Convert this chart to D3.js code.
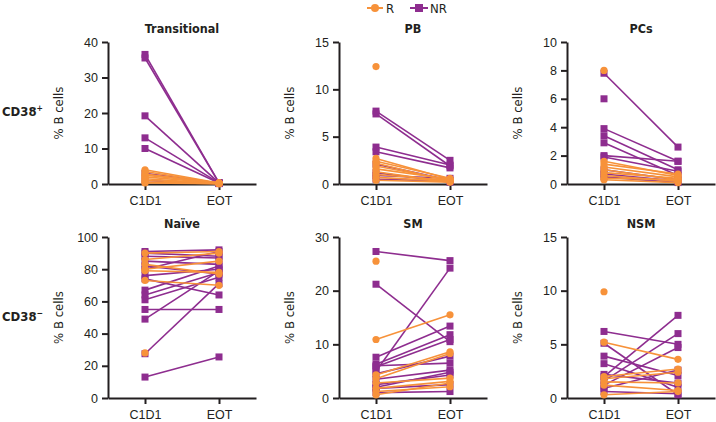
<!DOCTYPE html>
<html>
<head>
<meta charset="utf-8">
<script src="https://cdn.jsdelivr.net/npm/d3@7"></script>
<style>
  body { margin: 0; background: #fff; }
  svg { font-family: "Liberation Sans Narrow", "DejaVu Sans Condensed", sans-serif; }
  .tick text { font-size: 12.5px; fill: #231f20; }
  .domain, .tick line { stroke: #231f20; stroke-width: 2; }
</style>
</head>
<body>
<div id="chart"></div>
<script>
const width = 716;
const height = 422;

const timepoints = ["C1D1", "EOT"];
const titles = ["Transitional", "PB", "PCs", "Naïve", "SM", "NSM"];
const yMax = [40, 15, 10, 100, 30, 15];
const yTicks = [
    [0, 10, 20, 30, 40],
    [0, 5, 10, 15],
    [0, 2, 4, 6, 8, 10],
    [0, 20, 40, 60, 80, 100],
    [0, 10, 20, 30],
    [0, 5, 10, 15]
];
const rowLabels = ["CD38", "CD38"];
const rowSigns = ["+", "−"];

// [C1D1, EOT] pairs, null = no EOT sample
const transitionalNR = [[36.5, 0.3], [35.5, 0.3], [19.2, 0.3], [13, 0.3], [10, 0.3], [3, 0.2], [1, 0.1]];
const transitionalR = [[4, 0.3], [3.5, 0.2], [2.8, 0.3], [2.5, 0.3], [2, 0.2], [1.5, 0.1], [1, 0.2], [0.5, 0.1], [0.3, 0.1]];

const pbNR = [[7.7, 2.5], [7.4, 1.9], [3.9, 2.0], [3.4, 1.7], [2.1, 0.4], [1.2, 0.2], [0.9, 0.6], [0.5, 0.3]];
const pbR = [[12.4, null], [2.7, 0.5], [2.4, 0.6], [2.2, 0.3], [1.9, 0.4], [1.6, 0.5], [1.3, 0.2], [1.0, 0.4], [0.7, 0.3], [0.4, 0.2]];

const pcsNR = [[7.8, 2.6], [6.0, null], [3.9, 1.6], [3.4, 1.0], [2.9, 0.6], [2.0, 1.6], [1.9, 0.9], [1.0, 0.3], [0.7, 0.2], [0.5, 0.1]];
const pcsR = [[8.0, null], [1.6, 0.6], [1.4, 0.7], [1.2, 0.5], [1.0, 0.3], [0.8, 0.4], [0.6, 0.2], [0.4, 0.3], [0.3, 0.1]];

const naiveNR = [[91, 92], [90, 88], [88, 87], [85, 83], [82, 77], [80, 91], [76, 80], [74, 64], [67, 82], [64, 78], [61, 75], [55, 55], [49, 79], [27.5, 71], [13, 25.5]];
const naiveR = [[90, 91], [86, 90], [83, 77], [80, 85], [79, 78], [73, 70], [28, null]];

const smNR = [[27.3, 25.6], [21.2, 10.5], [5.0, 24.2], [7.6, 13.4], [6.3, 11.8], [5.8, 10.9], [4.5, 7.8], [6.0, 6.5], [3.5, 5.2], [2.0, 4.8], [2.5, 4.3], [1.8, 2.5], [1.0, 1.2]];
const smR = [[25.5, null], [10.9, 15.5], [4.3, 8.6], [3.6, 8.3], [2.8, 3.7], [1.8, 3.1], [1.2, 2.1], [0.6, 2.8]];

const nsmNR = [[6.2, 5.0], [5.1, 0.3], [3.9, 2.1], [3.2, 1.0], [2.2, 1.4], [2.0, 7.7], [1.6, 6.0], [1.2, 4.7], [0.9, 2.6], [0.6, 0.4]];
const nsmR = [[9.9, null], [5.2, 3.6], [2.0, 2.7], [1.8, 2.4], [1.5, 1.4], [1.2, 0.7], [0.3, 0.6]];

const seriesNR = [transitionalNR, pbNR, pcsNR, naiveNR, smNR, nsmNR];
const seriesR = [transitionalR, pbR, pcsR, naiveR, smR, nsmR];

const colorR = "#f7923a";
const colorNR = "#8e2d8f";
const ink = "#231f20";

// layout
const colX = [108, 339, 567];
const rowY = [[42, 184], [237, 398]];
const plotW = 148;

let svg = d3.select("#chart")
    .append("svg")
    .attr("width", width)
    .attr("height", height);

titles.forEach((title, i) => {
    let col = i % 3;
    let row = Math.floor(i / 3);
    let [top, bottom] = rowY[row];

    let g = svg.append("g")
        .attr("transform", "translate(" + colX[col] + ",0)");

    let x = d3.scalePoint()
        .domain(timepoints)
        .range([0, plotW])
        .padding(0.5);

    let y = d3.scaleLinear()
        .domain([0, yMax[i]])
        .range([bottom, top]);

    g.append("g")
        .call(d3.axisLeft(y).tickValues(yTicks[i]).tickSize(6).tickPadding(4).tickSizeOuter(0));

    g.append("g")
        .attr("transform", "translate(0," + bottom + ")")
        .call(d3.axisBottom(x).tickSize(6).tickPadding(4).tickSizeOuter(0))
        .selectAll(".tick text").attr("dy", "0.85em");

    g.append("text")
        .attr("x", (x("C1D1") + x("EOT")) / 2)
        .attr("y", top - 9)
        .attr("text-anchor", "middle")
        .attr("font-size", 12.5)
        .attr("font-weight", "bold")
        .attr("fill", ink)
        .text(title);

    g.append("text")
        .attr("transform", "translate(-45," + (top + bottom) / 2 + ") rotate(-90)")
        .attr("text-anchor", "middle")
        .attr("font-size", 13)
        .attr("fill", ink)
        .text("% B cells");

    const drawGroup = function(pairs, color, shape) {
        let withBoth = pairs.filter(d => d[1] !== null);
        g.append("g")
            .selectAll("line")
            .data(withBoth)
            .join("line")
            .attr("x1", x("C1D1"))
            .attr("x2", x("EOT"))
            .attr("y1", d => y(d[0]))
            .attr("y2", d => y(d[1]))
            .attr("stroke", color)
            .attr("stroke-width", 1.6);

        let pts = [];
        pairs.forEach(d => {
            pts.push({ t: "C1D1", v: d[0] });
            if (d[1] !== null) pts.push({ t: "EOT", v: d[1] });
        });

        if (shape === "square") {
            g.append("g")
                .selectAll("rect")
                .data(pts)
                .join("rect")
                .attr("x", d => x(d.t) - 3.5)
                .attr("y", d => y(d.v) - 3.5)
                .attr("width", 7)
                .attr("height", 7)
                .attr("fill", color);
        } else {
            g.append("g")
                .selectAll("circle")
                .data(pts)
                .join("circle")
                .attr("cx", d => x(d.t))
                .attr("cy", d => y(d.v))
                .attr("r", 3.6)
                .attr("fill", color);
        }
    };

    drawGroup(seriesNR[i], colorNR, "square");
    drawGroup(seriesR[i], colorR, "circle");
});

// row labels
rowLabels.forEach((lab, r) => {
    let t = svg.append("text")
        .attr("x", 2)
        .attr("y", (rowY[r][0] + rowY[r][1]) / 2 + 3)
        .attr("font-size", 13)
        .attr("font-weight", "bold")
        .attr("fill", ink)
        .text(lab);
    t.append("tspan")
        .attr("dy", -5)
        .attr("font-size", 8.5)
        .text(rowSigns[r]);
});

// legend
let legend = svg.append("g").attr("transform", "translate(0,8)");
legend.append("line").attr("x1", 367).attr("x2", 383).attr("stroke", colorR).attr("stroke-width", 2);
legend.append("circle").attr("cx", 375).attr("r", 4).attr("fill", colorR);
legend.append("text").attr("x", 386).attr("y", 5).attr("font-size", 13).attr("fill", ink).text("R");
legend.append("line").attr("x1", 410).attr("x2", 428).attr("stroke", colorNR).attr("stroke-width", 2);
legend.append("rect").attr("x", 415).attr("y", -4).attr("width", 8).attr("height", 8).attr("fill", colorNR);
legend.append("text").attr("x", 430).attr("y", 5).attr("font-size", 13).attr("fill", ink).text("NR");
</script>
</body>
</html>
